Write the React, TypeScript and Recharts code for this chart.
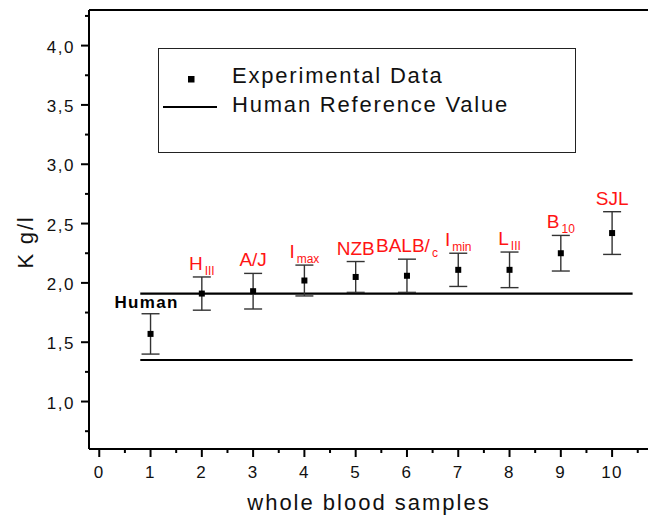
import React from "react";
import {
  ErrorBar,
  Legend,
  ReferenceLine,
  Scatter,
  ScatterChart,
  XAxis,
  YAxis,
} from "recharts";

// whole blood samples (1 = human, 2..10 = mouse strains)
const samples = [1, 2, 3, 4, 5, 6, 7, 8, 9, 10];
const kMean = [1.57, 1.91, 1.93, 2.02, 2.05, 2.06, 2.11, 2.11, 2.25, 2.42];
const kLow = [1.4, 1.77, 1.78, 1.89, 1.92, 1.92, 1.97, 1.96, 2.1, 2.24];
const kHigh = [1.74, 2.05, 2.08, 2.15, 2.18, 2.2, 2.25, 2.26, 2.4, 2.6];
const strainName = ["Human", "H", "A/J", "I", "NZB", "BALB/", "I", "L", "B", "SJL"];
const strainSub = ["", "III", "", "max", "", "c", "min", "III", "10", ""];

// human reference range
const humanRefLow = 1.35;
const humanRefHigh = 1.91;
const refFrom = 0.8;
const refTo = 10.4;

const xMajor = [0, 1, 2, 3, 4, 5, 6, 7, 8, 9, 10];
const xMinor = [0.5, 1.5, 2.5, 3.5, 4.5, 5.5, 6.5, 7.5, 8.5, 9.5, 10.5];
const yMajor = [1.0, 1.5, 2.0, 2.5, 3.0, 3.5, 4.0];
const yMinor = [0.75, 1.25, 1.75, 2.25, 2.75, 3.25, 3.75, 4.25];

const points = samples.map((x, i) => ({
  x,
  y: kMean[i],
  err: [kMean[i] - kLow[i], kHigh[i] - kMean[i]],
}));
const labelPoints = samples.map((x, i) => ({
  x,
  y: kHigh[i],
  name: strainName[i],
  sub: strainSub[i],
}));

const FONT = "'Liberation Sans', Arial, Helvetica, sans-serif";
const RED = "#ff1414";

const XTick = (props: any) => {
  const { x, y, payload } = props;
  const major = xMajor.includes(payload.value);
  return (
    <g>
      <line x1={x} x2={x} y1={y} y2={y + (major ? 8 : 4)} stroke="#000" strokeWidth={2} />
      {major && (
        <text x={x} y={y + 29} textAnchor="middle" fontSize={17} letterSpacing={1.5} fill="#111" fontFamily={FONT}>
          {payload.value}
        </text>
      )}
    </g>
  );
};

const YTick = (props: any) => {
  const { x, y, payload } = props;
  const major = yMajor.includes(payload.value);
  return (
    <g>
      <line x1={x} x2={x - (major ? 8 : 4)} y1={y} y2={y} stroke="#000" strokeWidth={2} />
      {major && (
        <text x={x - 14} y={y + 7} textAnchor="end" fontSize={17} letterSpacing={1.5} fill="#111" fontFamily={FONT}>
          {payload.value.toFixed(1).replace(".", ",")}
        </text>
      )}
    </g>
  );
};

const Square = (props: any) => {
  const { cx, cy } = props;
  return <rect x={cx - 3} y={cy - 3} width={6} height={6} fill="#000" />;
};

const StrainLabel = (props: any) => {
  const { cx, cy, payload } = props;
  if (payload.name === "Human") {
    return (
      <text x={cx - 4} y={cy - 6} textAnchor="middle" fontSize={17} fontWeight="bold" letterSpacing={1.3} fill="#000" fontFamily={FONT}>
        {payload.name}
      </text>
    );
  }
  return (
    <text x={cx} y={cy - 7} textAnchor="middle" fontSize={19} fill={RED} fontFamily={FONT}>
      {payload.name}
      {payload.sub && (
        <tspan fontSize={12} dx={2} dy={5}>
          {payload.sub}
        </tspan>
      )}
    </text>
  );
};

const LegendBox = () => (
  <div style={{ width: 418, height: 105, border: "1.5px solid #222", boxSizing: "border-box", background: "#fff" }}>
    <svg width={415} height={102} style={{ display: "block" }}>
      <rect x={29} y={27} width={6.5} height={6.5} fill="#000" />
      <line x1={4} x2={58} y1={58} y2={58} stroke="#000" strokeWidth={2.2} />
      <text x={73} y={34} fontSize={22} letterSpacing={1.8} fill="#111" fontFamily={FONT}>
        Experimental Data
      </text>
      <text x={73} y={63} fontSize={22} letterSpacing={1.8} fill="#111" fontFamily={FONT}>
        Human Reference Value
      </text>
    </svg>
  </div>
);

export default function App() {
  return (
    <div style={{ position: "absolute", left: 0, top: 0, width: 648, height: 517, background: "#fff", overflow: "hidden" }}>
      <ScatterChart width={648} height={517} margin={{ top: 10, right: 0, left: 0, bottom: 0 }}>
        <XAxis
          type="number"
          dataKey="x"
          domain={[-0.2, 10.7]}
          ticks={[...xMajor, ...xMinor].sort((a, b) => a - b)}
          interval={0}
          allowDataOverflow
          height={68}
          tickSize={0}
          tickMargin={0}
          tickLine={false}
          tick={<XTick />}
          axisLine={{ stroke: "#000", strokeWidth: 2 }}
        />
        <YAxis
          type="number"
          dataKey="y"
          domain={[0.6, 4.3]}
          ticks={[...yMajor, ...yMinor].sort((a, b) => a - b)}
          interval={0}
          allowDataOverflow
          width={89}
          tickSize={0}
          tickMargin={0}
          tickLine={false}
          tick={<YTick />}
          axisLine={{ stroke: "#000", strokeWidth: 2 }}
        />
        <ReferenceLine y={4.3} stroke="#000" strokeWidth={2} />
        <ReferenceLine
          segment={[{ x: refFrom, y: humanRefHigh }, { x: refTo, y: humanRefHigh }]}
          stroke="#000"
          strokeWidth={2.2}
        />
        <ReferenceLine
          segment={[{ x: refFrom, y: humanRefLow }, { x: refTo, y: humanRefLow }]}
          stroke="#000"
          strokeWidth={2.2}
        />
        <Scatter data={points} shape={<Square />} isAnimationActive={false}>
          <ErrorBar dataKey="err" direction="y" width={9} stroke="#333" strokeWidth={1.4} isAnimationActive={false} />
        </Scatter>
        <Scatter data={labelPoints} shape={<StrainLabel />} isAnimationActive={false} />
        <Legend
          layout="vertical"
          align="center"
          verticalAlign="middle"
          content={<LegendBox />}
          wrapperStyle={{ left: 158, top: 48, width: 418, height: 105 }}
        />
        <text x={369} y={510} textAnchor="middle" fontSize={22} letterSpacing={2} fill="#111" fontFamily={FONT}>
          whole blood samples
        </text>
        <text x={33} y={242} transform="rotate(-90 33 242)" textAnchor="middle" fontSize={22} letterSpacing={1.8} fill="#111" fontFamily={FONT}>
          K g/l
        </text>
      </ScatterChart>
    </div>
  );
}
